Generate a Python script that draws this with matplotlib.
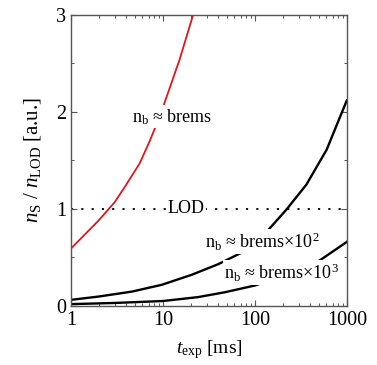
import matplotlib
matplotlib.use("Agg")
import matplotlib.pyplot as plt
from matplotlib.ticker import FixedLocator, NullFormatter

plt.rcParams['font.family'] = ['Liberation Serif', 'DejaVu Serif']
plt.rcParams['mathtext.fontset'] = 'custom'
plt.rcParams['mathtext.rm'] = 'Liberation Serif'
plt.rcParams['mathtext.it'] = 'Liberation Serif:italic'

# values
t_brems = [1, 2, 3.0, 4.0, 5.6, 7.2, 9.3, 11.9, 15.2, 21.3]
n_brems = [0.59, 0.88, 1.07, 1.25, 1.47, 1.70, 1.96, 2.25, 2.54, 3.0]

t_e2 = [1, 2, 4.6, 9.7, 20.5, 40, 72, 139, 219, 363, 603, 1000]
n_e2 = [0.062, 0.096, 0.147, 0.217, 0.32, 0.43, 0.55, 0.78, 0.99, 1.25, 1.61, 2.12]

t_e3 = [1, 3, 10, 24, 47, 100, 134, 250, 510, 1000]
n_e3 = [0.018, 0.03, 0.05, 0.09, 0.14, 0.21, 0.25, 0.34, 0.47, 0.66]

lod = 1.0
xticks = [1, 10, 100, 1000]
xticklabels = ['1', '10', '100', '1000']
yticks = [0, 1, 2, 3]

fig = plt.figure(figsize=(3.77, 3.65), dpi=100)
ax = fig.add_axes([0.188, 0.162, 0.732, 0.797])

ax.plot(t_brems, n_brems, color='#e8141c', lw=1.3, zorder=2)
ax.plot(t_e2, n_e2, color='black', lw=1.7, zorder=2)
ax.plot(t_e3, n_e3, color='black', lw=1.7, zorder=2)
ax.axhline(lod, color='black', lw=1.3, ls=(0, (1.2, 4.5)), zorder=1)

box = dict(facecolor='white', edgecolor='none', pad=1.0)
ax.text(18, lod, 'LOD', ha='center', va='center', fontsize=13, bbox=box, zorder=3)
ax.text(12.5, 1.95, r'n$_\mathrm{b}$ ≈ brems', ha='center', va='center',
        fontsize=13, bbox=box, zorder=3)
ax.text(119, 0.66, r'n$_\mathrm{b}$ ≈ brems×10$^\mathrm{2}$', ha='center', va='center',
        fontsize=13, bbox=box, zorder=3)
ax.text(196, 0.34, r'n$_\mathrm{b}$ ≈ brems×10$^\mathrm{3}$', ha='center', va='center',
        fontsize=13, bbox=box, zorder=3)

ax.set_xscale('log')
ax.set_xlim(1, 1000)
ax.set_ylim(0, 3)
ax.set_xticks(xticks)
ax.set_xticklabels(xticklabels)
ax.xaxis.set_minor_formatter(NullFormatter())
ax.set_yticks(yticks)
ax.yaxis.set_minor_locator(FixedLocator([0.5, 1.5, 2.5]))

ax.tick_params(which='both', direction='in', top=True, right=True, labelsize=14.5,
               color='#555555')
ax.tick_params(which='major', length=4, width=0.8)
ax.tick_params(which='minor', length=2.5, width=0.7)
for s in ax.spines.values():
    s.set_color('#555555')
    s.set_linewidth(1.0)

ax.set_xlabel(r'$t_\mathrm{exp}$ [ms]', fontsize=14, labelpad=6)
ax.set_ylabel(r'$n_\mathrm{S}$ / $n_\mathrm{LOD}$ [a.u.]', fontsize=15, labelpad=9)

fig.savefig('out.png', dpi=100)
